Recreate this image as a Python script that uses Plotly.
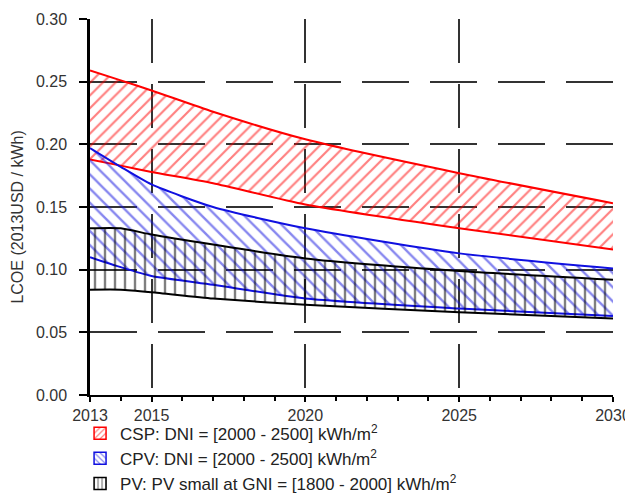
import plotly.graph_objects as go

years = [2013, 2014, 2015, 2017, 2020, 2025, 2030]

csp_upper = [0.259, 0.251, 0.243, 0.226, 0.204, 0.177, 0.153]
csp_lower = [0.188, 0.183, 0.178, 0.169, 0.152, 0.133, 0.116]

cpv_upper = [0.197, 0.182, 0.168, 0.150, 0.133, 0.113, 0.101]
cpv_lower = [0.110, 0.102, 0.095, 0.088, 0.077, 0.069, 0.063]

pv_upper = [0.133, 0.133, 0.128, 0.120, 0.109, 0.099, 0.092]
pv_lower = [0.084, 0.084, 0.082, 0.077, 0.072, 0.066, 0.061]

names = [
    "CSP: DNI = [2000 - 2500] kWh/m<sup>2</sup>",
    "CPV: DNI = [2000 - 2500] kWh/m<sup>2</sup>",
    "PV: PV small at GNI = [1800 - 2000] kWh/m<sup>2</sup>",
]
y_title = "LCOE (2013USD / kWh)"
colors = ["#ff0000", "#1010e0", "#000000"]
patterns = ["/", "\\", "|"]
pattern_sizes = [9, 10, 10]

x_ticks = [2013, 2015, 2020, 2025, 2030]
y_ticks = [0.00, 0.05, 0.10, 0.15, 0.20, 0.25, 0.30]

fig = go.Figure()
bands = [(csp_lower, csp_upper), (cpv_lower, cpv_upper), (pv_lower, pv_upper)]
for i, (lo, hi) in enumerate(bands):
    fig.add_trace(go.Scatter(
        x=years, y=lo, mode="lines",
        line=dict(color=colors[i], width=2, shape="spline", smoothing=0.6),
        showlegend=False, hoverinfo="skip",
    ))
    fig.add_trace(go.Scatter(
        x=years, y=hi, mode="lines", name=names[i], showlegend=False,
        line=dict(color=colors[i], width=2, shape="spline", smoothing=0.6),
        fill="tonexty", fillcolor="rgba(255,255,255,0)",
        fillpattern=dict(shape=patterns[i], fgcolor=colors[i], bgcolor="rgba(255,255,255,0)",
                         size=pattern_sizes[i], solidity=0.24),
    ))

# legend entries (pattern boxes)
for i in range(3):
    fig.add_trace(go.Bar(
        x=[None], y=[None], name=names[i],
        marker=dict(color="rgba(255,255,255,0)", line=dict(color=colors[i], width=1.5),
                    pattern=dict(shape=patterns[i], fgcolor=colors[i], bgcolor="white",
                                 size=5, solidity=0.3)),
    ))

font_family = "Liberation Sans, Arial, sans-serif"
fig.update_layout(
    width=633, height=494,
    margin=dict(l=82, r=28, t=11, b=107, autoexpand=False),
    paper_bgcolor="white", plot_bgcolor="white",
    font=dict(family=font_family, size=16, color="#333333"),
    showlegend=True,
    legend=dict(x=-0.019, y=-0.055, xanchor="left", yanchor="top", traceorder="normal",
                font=dict(size=17, color="#222222"), bgcolor="rgba(0,0,0,0)",
                tracegroupgap=0, itemwidth=30),
    xaxis=dict(
        range=[2013, 2030], tickvals=x_ticks, ticktext=[str(v) for v in x_ticks],
        showline=True, linecolor="black", linewidth=2,
        ticks="outside", ticklen=5, tickwidth=2, tickcolor="black",
        showgrid=True, gridcolor="#333333", gridwidth=1.5, griddash="44px,21px",
        zeroline=False, automargin=False,
        minor=dict(tickvals=list(range(2013, 2031)), ticks="outside", ticklen=4,
                   tickwidth=1.5, tickcolor="black", showgrid=False),
    ),
    yaxis=dict(
        range=[0, 0.30], tickvals=y_ticks, ticktext=["%.2f" % v for v in y_ticks],
        showline=True, linecolor="black", linewidth=2.5,
        ticks="outside", ticklen=8, tickwidth=2, tickcolor="black", ticklabelstandoff=9,
        showgrid=True, gridcolor="#333333", gridwidth=1.5, griddash="47px,21px",
        zeroline=False, automargin=False,
    ),
    annotations=[dict(
        text=y_title, textangle=-90, xref="paper", yref="paper",
        x=-0.138, y=0.474, xanchor="center", yanchor="middle", showarrow=False,
        font=dict(size=16, color="#333333"),
    )],
)

fig.write_html("out.html")
